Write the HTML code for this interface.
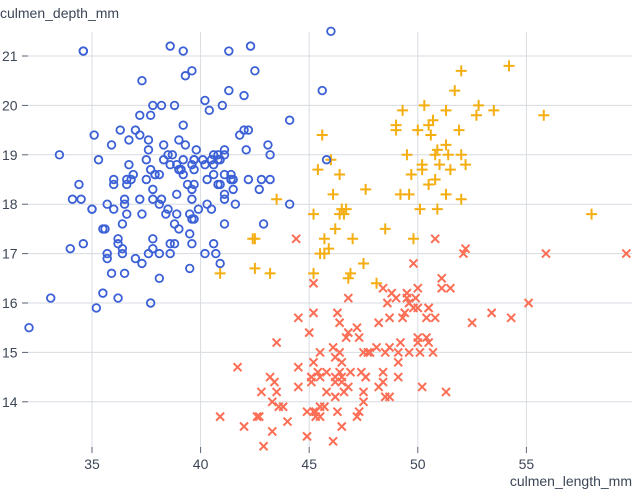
<!DOCTYPE html>
<html><head><meta charset="utf-8"><style>
html,body{margin:0;padding:0;background:#fff;}
svg{display:block;font-family:"Liberation Sans",sans-serif;}
</style></head><body>
<svg id="s" width="640" height="503" xmlns="http://www.w3.org/2000/svg">
<text x="0" y="18" font-size="14" fill="#3c4656">culmen_depth_mm</text>
<text x="632" y="486" font-size="14" fill="#3c4656" text-anchor="end">culmen_length_mm</text>
<g id="grid" stroke="#d7dbe0" stroke-width="1"></g>
<g id="lab" font-size="14" fill="#3c4656"></g>
<g id="pts"></g>
</svg>
<script>
const X=v=>92+(v-35)*21.72, Y=v=>56+(21-v)*49.4;
const g=document.getElementById('grid'),l=document.getElementById('lab'),p=document.getElementById('pts');
let gs='',ls='';
for(const v of [35,40,45,50,55]){const x=X(v).toFixed(1);gs+=`<line x1="${x}" y1="32" x2="${x}" y2="447"/><line x1="${x}" y1="447" x2="${x}" y2="453" stroke="#5a6270"/>`;ls+=`<text x="${x}" y="469" text-anchor="middle">${v}</text>`;}
for(let v=14;v<=21;v++){const y=Y(v).toFixed(1);gs+=`<line x1="28" y1="${y}" x2="632" y2="${y}"/><line x1="22" y1="${y}" x2="28" y2="${y}" stroke="#5a6270"/>`;ls+=`<text x="2" y="${(+y+5)}">${v}</text>`;}
g.innerHTML=gs;l.innerHTML=ls;
const A=[39.1,18.7,39.5,17.4,40.3,18,36.7,19.3,39.3,20.6,38.9,17.8,39.2,19.6,34.1,18.1,42,20.2,37.8,17.1,37.8,17.3,41.1,17.6,38.6,21.2,34.6,21.1,36.6,17.8,38.7,19,42.5,20.7,34.4,18.4,46,21.5,37.8,18.3,37.7,18.7,35.9,19.2,38.2,18.1,38.8,17.2,35.3,18.9,40.6,18.6,40.5,17.9,37.9,18.6,40.5,18.9,39.5,16.7,37.2,18.1,39.5,17.8,40.9,18.9,36.4,17,39.2,21.1,38.8,20,42.2,18.5,37.6,19.3,39.8,19.1,36.5,18,40.8,18.4,36,18.5,44.1,19.7,37,16.9,39.6,18.8,41.1,19,37.5,18.9,36,17.9,42.3,21.2,39.6,17.7,40.1,18.9,35,17.9,42,19.5,34.5,18.1,41.4,18.6,39,17.5,40.6,18.8,36.5,16.6,37.6,19.1,35.7,16.9,41.3,21.1,37.6,17,41.1,18.2,36.4,17.1,41.6,18,35.5,16.2,41.1,19.1,35.9,16.6,41.8,19.4,33.5,19,39.7,18.4,39.6,17.2,45.8,18.9,35.5,17.5,42.8,18.5,40.9,16.8,37.2,19.4,36.2,16.1,42.1,19.1,34.6,17.2,42.9,17.6,36.7,18.8,35.1,19.4,37.3,17.8,41.3,20.3,36.3,19.5,36.9,18.6,38.3,19.2,38.9,18.8,35.7,18,41.1,18.1,34,17.1,39.6,18.1,36.2,17.3,40.8,18.9,38.1,18.6,40.3,18.5,33.1,16.1,43.2,18.5,35,17.9,41,20,37.7,16,37.8,20,37.9,18.6,39.7,18.9,38.6,17.2,38.2,20,38.1,17,43.2,19,38.1,16.5,45.6,20.3,39.7,17.7,42.2,19.5,39.6,20.7,42.7,18.3,38.6,17,37.3,20.5,35.7,17,41.1,18.6,36.2,17.2,37.7,19.8,40.2,17,41.4,18.5,35.2,15.9,40.6,19,41.5,18.3,44.1,18,36.4,17.6,38.4,17.8,40.9,18.4,38.3,18.9,39.4,18.4,39.2,18.9,39.7,18.7,32.1,15.5,36.6,18.4,40.2,20.1,39,18.7,38.5,17.9,40.6,17.2,36,18.4,37,19.5,38.8,17.6,39.9,17.9,40.8,19,36.6,18.5,41.5,18.5,39.6,18.3,39.2,18.6,39,19.3,37.3,16.8,35.6,17.5,40.2,18.8,41.4,18.5,36.8,18.5,37.8,18.1,38.1,18,38.5,19,37.5,18.5,39.3,19.2,37.2,19.8,40.7,17,39.7,18.9,43.1,19.2,38.6,18.8,34.6,21.1,36.5,18.1,38.9,18.2,40.4,19.9];
const C=[46.5,17.9,50,19.5,51.3,19.2,45.4,18.7,52.7,19.8,45.2,17.8,46.1,18.2,51.3,18.2,46,18.9,51.3,19.9,46.6,17.8,51.7,20.3,47,17.3,52,18.1,45.9,17.1,50.5,19.6,50.3,20,58,17.8,46.4,18.6,49.2,18.2,42.4,17.3,48.5,17.5,43.2,16.6,50.6,19.4,46.7,17.9,52,19,50.5,18.4,49.5,19,46.4,17.8,52.8,20,40.9,16.6,54.2,20.8,42.5,16.7,51,18.8,49.7,18.6,47.5,16.8,47.6,18.3,52,20.7,46.9,16.6,53.5,19.9,49,19.5,46.2,17.5,50.9,19.1,45.5,17,50.9,17.9,50.8,18.5,50.1,17.9,49,19.6,51.5,18.7,49.8,17.3,48.1,16.4,51.4,19,45.7,17.3,50.7,19.7,42.5,17.3,52.2,18.8,45.2,16.6,49.3,19.9,50.2,18.8,45.6,19.4,51.9,19.5,46.8,16.5,45.7,17,55.8,19.8,43.5,18.1,49.6,18.2,50.8,19,50.2,18.7];
const G=[46.1,13.2,50,16.3,48.7,14.1,50,15.2,47.6,14.5,46.5,13.5,45.4,14.6,46.7,15.3,43.3,13.4,46.8,15.4,40.9,13.7,49,16.1,45.5,13.7,48.4,14.6,45.8,14.6,49.3,15.7,42,13.5,49.2,15.2,46.2,14.5,48.7,15.1,50.2,14.3,45.1,14.5,46.5,14.5,46.3,15.8,42.9,13.1,46.1,15.1,44.5,14.3,47.8,15,48.2,14.3,50,15.3,47.3,15.3,42.8,14.2,45.1,14.5,59.6,17,49.1,14.8,48.4,16.3,42.6,13.7,44.4,17.3,44,13.6,48.7,15.7,42.7,13.7,49.6,16,45.3,13.7,49.6,15,50.5,15.9,43.6,13.9,45.5,13.9,50.5,15.9,44.9,13.3,45.2,15.8,46.6,14.2,48.5,14.1,45.1,14.4,50.1,15,46.5,14.4,45,15.4,43.8,13.9,45.5,15,43.2,14.5,50.4,15.3,45.3,13.8,46.2,14.9,45.7,13.9,54.3,15.7,45.8,14.2,49.8,16.8,46.2,14.4,49.5,16.2,43.5,14.2,50.7,15,47.7,15,46.4,15.6,48.2,15.6,46.5,14.8,46.4,15,48.6,16,47.5,14.2,51.1,16.3,45.2,13.8,45.2,16.4,49.1,14.5,52.5,15.6,47.4,14.6,50,15.9,44.9,13.8,50.8,17.3,43.4,14.4,51.3,14.2,47.5,14,52.1,17,47.5,15,52.2,17.1,45.5,14.5,49.5,16.1,44.5,14.7,50.8,15.7,49.4,15.8,46.9,14.6,48.4,14.4,51.1,16.5,48.5,15,55.9,17,47.2,15.5,49.1,15,47.3,13.8,46.8,16.1,41.7,14.7,53.4,15.8,43.3,14,48.1,15.1,50.5,15.2,49.8,15.9,43.5,15.2,51.5,16.3,46.2,14.1,55.1,16,44.5,15.7,48.8,16.2,47.2,13.7,46.8,14.3,50.4,15.7,45.2,14.8,49.9,16.1,46.4,14.6,47.6,14.5,46.3,13.8];
let s='';
for(let i=0;i<G.length;i+=2){const x=X(G[i]),y=Y(G[i+1]);s+=`<path d="M${x-4} ${y-4}L${x+4} ${y+4}M${x-4} ${y+4}L${x+4} ${y-4}" stroke="#fc6e55" stroke-width="2" fill="none"/>`;}
for(let i=0;i<C.length;i+=2){const x=X(C[i]),y=Y(C[i+1]);s+=`<path d="M${x-5.5} ${y}H${x+5.5}M${x} ${y-5.5}V${y+5.5}" stroke="#f5ae12" stroke-width="2" fill="none"/>`;}
for(let i=0;i<A.length;i+=2){s+=`<circle cx="${X(A[i])}" cy="${Y(A[i+1])}" r="3.8" stroke="#3c60d6" stroke-width="1.8" fill="none"/>`;}
p.innerHTML=s;
</script>
</body></html>
